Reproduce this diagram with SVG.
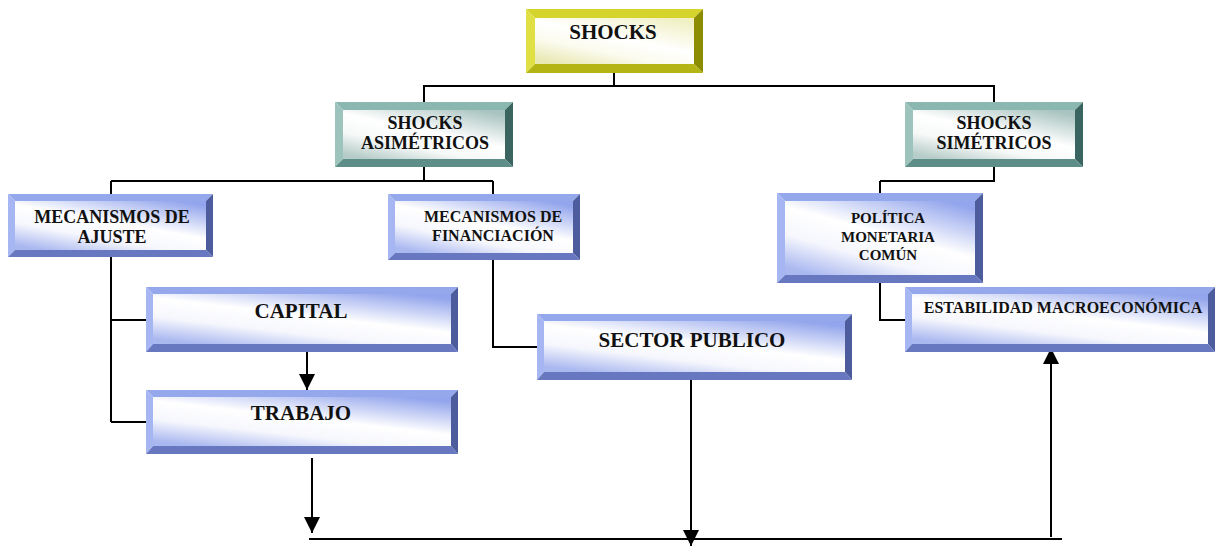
<svg xmlns="http://www.w3.org/2000/svg" width="1215" height="546" viewBox="0 0 1215 546">
<defs>
<linearGradient id="gBlue" x1="0.85" y1="0" x2="0.15" y2="1">
<stop offset="0" stop-color="#93a5ec"/>
<stop offset="0.45" stop-color="#ffffff"/>
<stop offset="0.7" stop-color="#f6f7fd"/>
<stop offset="1" stop-color="#aab8f0"/>
</linearGradient>
<linearGradient id="gTeal" x1="0.85" y1="0" x2="0.15" y2="1">
<stop offset="0" stop-color="#a9c4c0"/>
<stop offset="0.45" stop-color="#ffffff"/>
<stop offset="0.7" stop-color="#f6f9f8"/>
<stop offset="1" stop-color="#b6ccc8"/>
</linearGradient>
<linearGradient id="gYel" x1="0.85" y1="0" x2="0.15" y2="1">
<stop offset="0" stop-color="#f0f0c4"/>
<stop offset="0.45" stop-color="#ffffff"/>
<stop offset="0.7" stop-color="#fbfbee"/>
<stop offset="1" stop-color="#e8e8b4"/>
</linearGradient>
<marker id="arr" markerUnits="userSpaceOnUse" markerWidth="16" markerHeight="16" viewBox="0 0 16 16" refX="16" refY="8" orient="auto">
<path d="M0,0 L16,8 L0,16 z" fill="#000"/>
</marker>
</defs>
<style>
.t{font-family:"Liberation Serif","Times New Roman",serif;font-weight:bold;fill:#111;text-anchor:middle}
.c{stroke:#000;stroke-width:2;fill:none}
.bT{fill:#96a8ec}.bL{fill:#a6b6f2}.bR{fill:#4c5c9c}.bB{fill:#6878c0}.bI{fill:url(#gBlue)}
.tT{fill:#8ab8b0}.tL{fill:#9cc4bc}.tR{fill:#3a6460}.tB{fill:#5e8e88}.tI{fill:url(#gTeal)}
.yT{fill:#d4d42c}.yL{fill:#e0e044}.yR{fill:#8c8c00}.yB{fill:#b4b414}.yI{fill:url(#gYel)}
</style>

<g id="connectors">
<path class="c" d="M614,73 V86 M423,86 H995 M424,86 V102 M994,86 V102"/>
<path class="c" d="M424,167 V181 M111,181 H493 M111,181 V194 M493,181 V194"/>
<path class="c" d="M994,167 V181 M880,181 H995 M880,181 V193"/>
<path class="c" d="M111,257 V422 M111,320 H146 M111,422 H146"/>
<path class="c" d="M493,260 V347 H537"/>
<path class="c" d="M880,283 V320 H905"/>
<path class="c" d="M307,352 V390" marker-end="url(#arr)"/>
<path class="c" d="M312,458 V533" marker-end="url(#arr)"/>
<path class="c" d="M691,380 V546" marker-end="url(#arr)"/>
<path class="c" d="M309,539 H1062"/>
<path class="c" d="M1051,537 V348" marker-end="url(#arr)"/>
</g>

<g id="shocks">
<polygon class="yT" points="526,9 703,9 694,18 535,18"/>
<polygon class="yL" points="526,9 535,18 535,64 526,73"/>
<polygon class="yR" points="703,9 703,73 694,64 694,18"/>
<polygon class="yB" points="526,73 703,73 694,64 535,64"/>
<rect class="yI" x="535" y="18" width="159" height="46"/>
<text class="t" x="613" y="39" font-size="21">SHOCKS</text>
</g>

<g id="asimetricos">
<polygon class="tT" points="335,102 513,102 505,110 343,110"/>
<polygon class="tL" points="335,102 343,110 343,159 335,167"/>
<polygon class="tR" points="513,102 513,167 505,159 505,110"/>
<polygon class="tB" points="335,167 513,167 505,159 343,159"/>
<rect class="tI" x="343" y="110" width="162" height="49"/>
<text class="t" x="425" y="129" font-size="18">SHOCKS</text>
<text class="t" x="425" y="149" font-size="18">ASIMÉTRICOS</text>
</g>

<g id="simetricos">
<polygon class="tT" points="905,102 1083,102 1075,110 913,110"/>
<polygon class="tL" points="905,102 913,110 913,159 905,167"/>
<polygon class="tR" points="1083,102 1083,167 1075,159 1075,110"/>
<polygon class="tB" points="905,167 1083,167 1075,159 913,159"/>
<rect class="tI" x="913" y="110" width="162" height="49"/>
<text class="t" x="994" y="129" font-size="18">SHOCKS</text>
<text class="t" x="994" y="149" font-size="18">SIMÉTRICOS</text>
</g>

<g id="ajuste">
<polygon class="bT" points="8,194 213,194 206,201 15,201"/>
<polygon class="bL" points="8,194 15,201 15,250 8,257"/>
<polygon class="bR" points="213,194 213,257 206,250 206,201"/>
<polygon class="bB" points="8,257 213,257 206,250 15,250"/>
<rect class="bI" x="15" y="201" width="191" height="49"/>
<text class="t" x="112" y="223" font-size="18">MECANISMOS DE</text>
<text class="t" x="112" y="243" font-size="18">AJUSTE</text>
</g>

<g id="financiacion">
<polygon class="bT" points="388,194 580,194 573,201 395,201"/>
<polygon class="bL" points="388,194 395,201 395,253 388,260"/>
<polygon class="bR" points="580,194 580,260 573,253 573,201"/>
<polygon class="bB" points="388,260 580,260 573,253 395,253"/>
<rect class="bI" x="395" y="201" width="178" height="52"/>
<text class="t" x="493" y="222" font-size="16">MECANISMOS DE</text>
<text class="t" x="493" y="241" font-size="16">FINANCIACIÓN</text>
</g>

<g id="politica">
<polygon class="bT" points="777,193 983,193 975,201 785,201"/>
<polygon class="bL" points="777,193 785,201 785,275 777,283"/>
<polygon class="bR" points="983,193 983,283 975,275 975,201"/>
<polygon class="bB" points="777,283 983,283 975,275 785,275"/>
<rect class="bI" x="785" y="201" width="190" height="74"/>
<text class="t" x="888" y="223" font-size="15">POLÍTICA</text>
<text class="t" x="888" y="242" font-size="15">MONETARIA</text>
<text class="t" x="888" y="260" font-size="15">COMÚN</text>
</g>

<g id="capital">
<polygon class="bT" points="146,287 458,287 451,294 153,294"/>
<polygon class="bL" points="146,287 153,294 153,344 146,352"/>
<polygon class="bR" points="458,287 458,352 451,344 451,294"/>
<polygon class="bB" points="146,352 458,352 451,344 153,344"/>
<rect class="bI" x="153" y="294" width="298" height="50"/>
<text class="t" x="301" y="318" font-size="21">CAPITAL</text>
</g>

<g id="trabajo">
<polygon class="bT" points="146,390 458,390 451,397 153,397"/>
<polygon class="bL" points="146,390 153,397 153,446 146,454"/>
<polygon class="bR" points="458,390 458,454 451,446 451,397"/>
<polygon class="bB" points="146,454 458,454 451,446 153,446"/>
<rect class="bI" x="153" y="397" width="298" height="49"/>
<text class="t" x="301" y="420" font-size="21">TRABAJO</text>
</g>

<g id="sector">
<polygon class="bT" points="537,314 852,314 845,321 544,321"/>
<polygon class="bL" points="537,314 544,321 544,372 537,380"/>
<polygon class="bR" points="852,314 852,380 845,372 845,321"/>
<polygon class="bB" points="537,380 852,380 845,372 544,372"/>
<rect class="bI" x="544" y="321" width="301" height="51"/>
<text class="t" x="692" y="347" font-size="21">SECTOR PUBLICO</text>
</g>

<g id="estabilidad">
<polygon class="bT" points="905,287 1215,287 1208,294 912,294"/>
<polygon class="bL" points="905,287 912,294 912,344 905,352"/>
<polygon class="bR" points="1215,287 1215,352 1208,344 1208,294"/>
<polygon class="bB" points="905,352 1215,352 1208,344 912,344"/>
<rect class="bI" x="912" y="294" width="296" height="50"/>
<text class="t" x="1063" y="313" font-size="16">ESTABILIDAD MACROECONÓMICA</text>
</g>
</svg>
